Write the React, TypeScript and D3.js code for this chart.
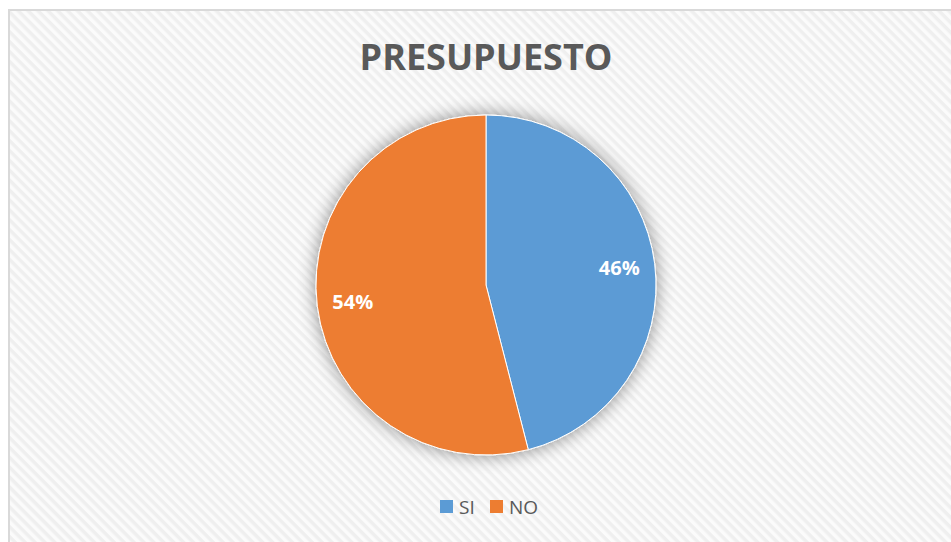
import * as d3 from "d3";
import { useEffect, useRef } from "react";

const categories = ["SI", "NO"];
const values = [46, 54];
const colors = ["#5B9BD5", "#ED7D31"];
const chartTitle = "PRESUPUESTO";

const App = () => {
  const svgRef = useRef<SVGSVGElement>(null);

  useEffect(() => {
    const w = 951;
    const h = 542;
    const svg = d3.select(svgRef.current).attr("width", w).attr("height", h);
    svg.selectAll("*").remove();

    const defs = svg.append("defs");
    // diagonal stripe background
    const pat = defs
      .append("pattern")
      .attr("id", "stripes")
      .attr("patternUnits", "userSpaceOnUse")
      .attr("width", 7)
      .attr("height", 7)
      .attr("patternTransform", "rotate(45)");
    pat.append("rect").attr("width", 7).attr("height", 7).attr("fill", "#fbfbfb");
    pat.append("rect").attr("width", 7).attr("height", 3.5).attr("fill", "#efefef");

    const shadow = defs.append("filter").attr("id", "shadow")
      .attr("x", "-30%").attr("y", "-30%").attr("width", "160%").attr("height", "160%");
    shadow.append("feGaussianBlur").attr("in", "SourceAlpha").attr("stdDeviation", 9);
    shadow.append("feComponentTransfer").append("feFuncA").attr("type", "linear").attr("slope", 0.45);
    const merge = shadow.append("feMerge");
    merge.append("feMergeNode");
    merge.append("feMergeNode").attr("in", "SourceGraphic");

    // chart area
    svg.append("rect")
      .attr("x", 9).attr("y", 10)
      .attr("width", 960).attr("height", 560)
      .attr("fill", "url(#stripes)")
      .attr("stroke", "#d9d9d9")
      .attr("stroke-width", 2);

    svg.append("text")
      .attr("x", 486).attr("y", 70)
      .attr("text-anchor", "middle")
      .attr("font-family", "Open Sans, sans-serif")
      .attr("font-weight", "bold")
      .attr("font-size", 36)
      .attr("fill", "#595959")
      .text(chartTitle);

    const cx = 486, cy = 285, r = 170;
    const pie = d3.pie<number>().sort(null).value((d) => d);
    const arcs = pie(values);
    const arc = d3.arc<d3.PieArcDatum<number>>().innerRadius(0).outerRadius(r);
    const labelArc = d3.arc<d3.PieArcDatum<number>>().innerRadius(r * 0.79).outerRadius(r * 0.79);

    const g = svg.append("g").attr("transform", `translate(${cx},${cy})`);
    g.append("g").attr("filter", "url(#shadow)")
      .selectAll("path")
      .data(arcs)
      .join("path")
      .attr("d", arc)
      .attr("fill", (d, i) => colors[i])
      .attr("stroke", "#ffffff")
      .attr("stroke-width", 1);

    const total = d3.sum(values);
    g.selectAll(".lbl")
      .data(arcs)
      .join("text")
      .attr("class", "lbl")
      .attr("transform", (d) => `translate(${labelArc.centroid(d)})`)
      .attr("text-anchor", "middle")
      .attr("dy", "0.35em")
      .attr("font-family", "Open Sans, sans-serif")
      .attr("font-weight", "bold")
      .attr("font-size", 20)
      .attr("fill", "#ffffff")
      .text((d) => `${Math.round((d.value / total) * 100)}%`);

    // legend
    const legend = svg.append("g").attr("transform", "translate(440,500)");
    const offsets = [0, 50];
    categories.forEach((c, i) => {
      const item = legend.append("g").attr("transform", `translate(${offsets[i]},0)`);
      item.append("rect").attr("width", 13).attr("height", 13).attr("fill", colors[i]);
      item.append("text")
        .attr("x", 19).attr("y", 7).attr("dy", "0.35em")
        .attr("font-family", "Open Sans, sans-serif")
        .attr("font-size", 19)
        .attr("fill", "#595959")
        .text(c);
    });
  }, []);

  return (
    <svg ref={svgRef} style={{ position: "absolute", left: 0, top: 0 }}></svg>
  );
};

export default App;
